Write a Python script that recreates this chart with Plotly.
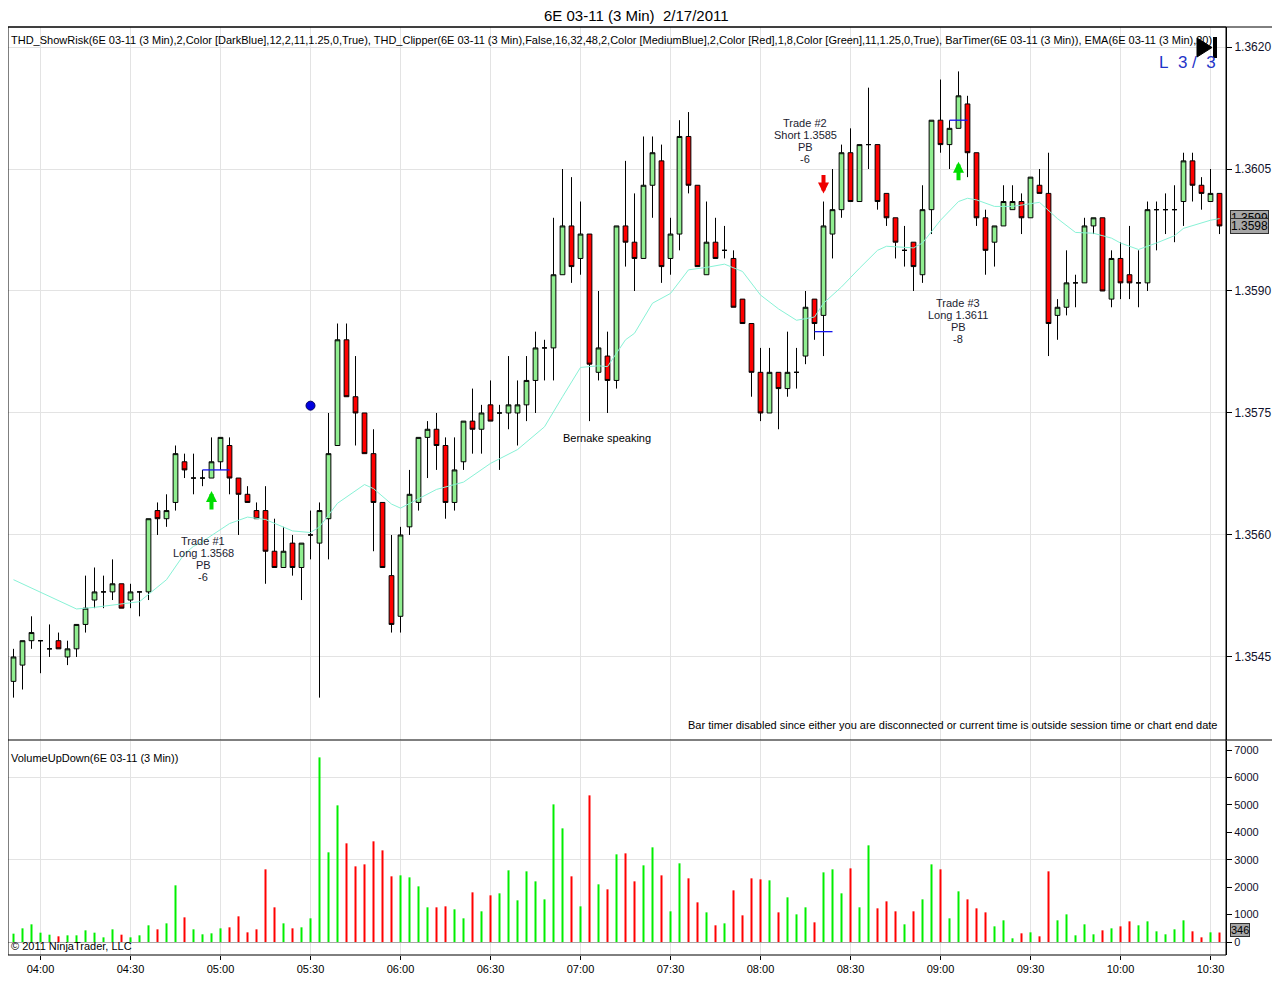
import pandas as pd
import plotly.graph_objects as go

# 3-minute bars of 6E 03-11, 17 Feb 2011 (prices in EUR/USD)
start_time = "2011-02-17 03:51"
opens = [1.3542, 1.3544, 1.3547, 1.3547, 1.3546, 1.3547, 1.3545, 1.3546, 1.3549, 1.3552,
         1.3553, 1.3553, 1.3554, 1.3552, 1.3553, 1.3553, 1.3563, 1.3562, 1.3564, 1.3569,
         1.3567, 1.3567, 1.3567, 1.3569, 1.3571, 1.3567, 1.3565, 1.3563, 1.3563, 1.3558,
         1.3556, 1.3559, 1.3556, 1.3560, 1.3559, 1.3562, 1.3571, 1.3584, 1.3577, 1.3575,
         1.3570, 1.3564, 1.3555, 1.3550, 1.3561, 1.3564, 1.3572, 1.3573, 1.3571, 1.3564,
         1.3569, 1.3574, 1.3573, 1.3576, 1.3575, 1.3575, 1.3575, 1.3576, 1.3579, 1.3583,
         1.3583, 1.3592, 1.3598, 1.3594, 1.3597, 1.3580, 1.3582, 1.3579, 1.3598, 1.3596,
         1.3594, 1.3603, 1.3606, 1.3594, 1.3597, 1.3609, 1.3603, 1.3592, 1.3596, 1.3595,
         1.3594, 1.3589, 1.3586, 1.3580, 1.3575, 1.3580, 1.3578, 1.3580, 1.3582, 1.3589,
         1.3587, 1.3597, 1.3600, 1.3607, 1.3601, 1.3608, 1.3608, 1.3602, 1.3599, 1.3595,
         1.3596, 1.3592, 1.3600, 1.3611, 1.3608, 1.3610, 1.3613, 1.3607, 1.3599, 1.3596,
         1.3598, 1.3600, 1.3601, 1.3599, 1.3603, 1.3602, 1.3587, 1.3588, 1.3591, 1.3591,
         1.3598, 1.3599, 1.3589, 1.3594, 1.3592, 1.3591, 1.3591, 1.3600, 1.3600, 1.3600,
         1.3601, 1.3606, 1.3603, 1.3601, 1.3602]
highs = [1.3546, 1.3547, 1.3550, 1.3547, 1.3549, 1.3548, 1.3547, 1.3549, 1.3555, 1.3556,
         1.3555, 1.3557, 1.3554, 1.3554, 1.3553, 1.3562, 1.3564, 1.3565, 1.3571, 1.3570,
         1.3570, 1.3568, 1.3572, 1.3572, 1.3572, 1.3567, 1.3566, 1.3564, 1.3566, 1.3562,
         1.3561, 1.3560, 1.3559, 1.3563, 1.3564, 1.3575, 1.3586, 1.3586, 1.3582, 1.3575,
         1.3573, 1.3564, 1.3560, 1.3561, 1.3568, 1.3572, 1.3574, 1.3575, 1.3572, 1.3572,
         1.3574, 1.3578, 1.3576, 1.3579, 1.3576, 1.3582, 1.3579, 1.3582, 1.3585, 1.3584,
         1.3599, 1.3605, 1.3604, 1.3601, 1.3597, 1.3590, 1.3585, 1.3598, 1.3606, 1.3602,
         1.3609, 1.3609, 1.3608, 1.3599, 1.3611, 1.3612, 1.3603, 1.3601, 1.3599, 1.3598,
         1.3595, 1.3589, 1.3586, 1.3583, 1.3583, 1.3580, 1.3585, 1.3583, 1.3590, 1.3589,
         1.3601, 1.3605, 1.3608, 1.3610, 1.3608, 1.3615, 1.3608, 1.3602, 1.3599, 1.3598,
         1.3596, 1.3603, 1.3611, 1.3616, 1.3611, 1.3617, 1.3614, 1.3607, 1.3600, 1.3598,
         1.3603, 1.3603, 1.3602, 1.3604, 1.3605, 1.3607, 1.3589, 1.3595, 1.3592, 1.3599,
         1.3599, 1.3599, 1.3595, 1.3596, 1.3598, 1.3595, 1.3601, 1.3601, 1.3602, 1.3603,
         1.3607, 1.3607, 1.3604, 1.3605, 1.3602]
lows = [1.3540, 1.3541, 1.3546, 1.3543, 1.3545, 1.3546, 1.3544, 1.3545, 1.3548, 1.3551,
        1.3551, 1.3552, 1.3551, 1.3551, 1.3550, 1.3552, 1.3560, 1.3561, 1.3563, 1.3567,
        1.3565, 1.3566, 1.3567, 1.3568, 1.3565, 1.3560, 1.3564, 1.3562, 1.3554, 1.3556,
        1.3556, 1.3555, 1.3552, 1.3557, 1.3540, 1.3557, 1.3571, 1.3577, 1.3571, 1.3570,
        1.3558, 1.3556, 1.3548, 1.3548, 1.3560, 1.3563, 1.3567, 1.3568, 1.3562, 1.3563,
        1.3568, 1.3570, 1.3570, 1.3574, 1.3568, 1.3573, 1.3571, 1.3574, 1.3575, 1.3579,
        1.3579, 1.3592, 1.3591, 1.3592, 1.3574, 1.3579, 1.3575, 1.3578, 1.3593, 1.3590,
        1.3594, 1.3599, 1.3591, 1.3592, 1.3595, 1.3602, 1.3593, 1.3592, 1.3594, 1.3594,
        1.3588, 1.3586, 1.3577, 1.3574, 1.3575, 1.3573, 1.3577, 1.3578, 1.3581, 1.3584,
        1.3582, 1.3594, 1.3599, 1.3601, 1.3601, 1.3605, 1.3600, 1.3598, 1.3594, 1.3593,
        1.3590, 1.3591, 1.3597, 1.3607, 1.3605, 1.3610, 1.3604, 1.3598, 1.3592, 1.3593,
        1.3598, 1.3600, 1.3597, 1.3599, 1.3602, 1.3582, 1.3584, 1.3587, 1.3588, 1.3591,
        1.3597, 1.3590, 1.3588, 1.3589, 1.3589, 1.3588, 1.3590, 1.3595, 1.3597, 1.3596,
        1.3598, 1.3601, 1.3600, 1.3601, 1.3597]
closes = [1.3545, 1.3547, 1.3548, 1.3547, 1.3546, 1.3546, 1.3546, 1.3549, 1.3551, 1.3553,
          1.3553, 1.3554, 1.3551, 1.3553, 1.3553, 1.3562, 1.3562, 1.3563, 1.3570, 1.3568,
          1.3567, 1.3567, 1.3569, 1.3572, 1.3567, 1.3565, 1.3564, 1.3562, 1.3558, 1.3556,
          1.3558, 1.3556, 1.3559, 1.3560, 1.3563, 1.3570, 1.3584, 1.3577, 1.3575, 1.3570,
          1.3564, 1.3556, 1.3549, 1.3560, 1.3565, 1.3572, 1.3573, 1.3571, 1.3564, 1.3568,
          1.3574, 1.3573, 1.3575, 1.3574, 1.3575, 1.3576, 1.3576, 1.3579, 1.3583, 1.3583,
          1.3592, 1.3598, 1.3593, 1.3597, 1.3581, 1.3583, 1.3579, 1.3598, 1.3596, 1.3594,
          1.3603, 1.3607, 1.3593, 1.3597, 1.3609, 1.3603, 1.3593, 1.3596, 1.3594, 1.3595,
          1.3588, 1.3586, 1.3580, 1.3575, 1.3580, 1.3578, 1.3580, 1.3580, 1.3588, 1.3586,
          1.3598, 1.3600, 1.3607, 1.3601, 1.3608, 1.3608, 1.3601, 1.3599, 1.3596, 1.3595,
          1.3593, 1.3600, 1.3611, 1.3608, 1.3610, 1.3614, 1.3607, 1.3599, 1.3595, 1.3598,
          1.3601, 1.3601, 1.3599, 1.3604, 1.3602, 1.3586, 1.3588, 1.3591, 1.3591, 1.3598,
          1.3599, 1.3590, 1.3594, 1.3591, 1.3591, 1.3591, 1.3600, 1.3600, 1.3600, 1.3600,
          1.3606, 1.3603, 1.3602, 1.3602, 1.3598]
volumes = [304, 498, 644, 340, 267, 207, 243, 243, 425, 340,
           170, 462, 267, 170, 243, 608, 462, 680, 2066, 899,
           462, 280, 316, 498, 535, 936, 352, 462, 2649, 1264,
           680, 498, 535, 863, 6731, 3269, 4982, 3597, 2758, 2831,
           3670, 3341, 2394, 2430, 2357, 2029, 1264, 1264, 1300, 1191,
           863, 1810, 1118, 1701, 1774, 2612, 1519, 2576, 2211, 1555,
           5018, 4143, 2394, 1300, 5346, 2102, 1920, 3196, 3232, 2211,
           2795, 3451, 2430, 1118, 2868, 2321, 1446, 1081, 608, 680,
           1883, 972, 2321, 2284, 2248, 1081, 1628, 1008, 1264, 717,
           2539, 2649, 1774, 2685, 1264, 3524, 1227, 1482, 1118, 644,
           1118, 1555, 2831, 2649, 863, 1847, 1555, 1227, 1081, 571,
           790, 134, 316, 352, 207, 2576, 790, 1008, 243, 644,
           280, 425, 498, 571, 753, 608, 753, 389, 280, 462,
           790, 389, 170, 352, 346]

# EMA(20): bar index -> value
ema_bar = [0, 3, 7, 9, 13, 14, 17, 19, 20, 21, 24, 26, 28, 31, 33, 34, 36, 39, 40, 42,
           43, 47, 50, 53, 56, 59, 61, 63, 65, 66, 68, 69, 71, 73, 75, 77, 79, 81, 83, 85,
           87, 89, 90, 92, 94, 96, 97, 100, 101, 102, 103, 105, 106, 107, 109, 111, 114, 116,
           118, 120, 122, 123, 125, 127, 129, 130, 133, 134]
ema_val = [1.35545, 1.35530, 1.35509, 1.35511, 1.35517, 1.35518, 1.35545, 1.35577, 1.35586, 1.35592,
           1.35614, 1.35622, 1.35619, 1.35605, 1.35603, 1.35610, 1.35639, 1.35662, 1.35657, 1.35638,
           1.35633, 1.35656, 1.35665, 1.35688, 1.35705, 1.35733, 1.35770, 1.35806, 1.35808, 1.35807,
           1.35840, 1.35848, 1.35885, 1.35897, 1.35926, 1.35929, 1.35933, 1.35924, 1.35895, 1.35878,
           1.35864, 1.35868, 1.35885, 1.35905, 1.35928, 1.35950, 1.35955, 1.35953, 1.35959, 1.35973,
           1.35987, 1.36010, 1.36014, 1.36012, 1.36004, 1.36004, 1.36009, 1.35989, 1.35972, 1.35971,
           1.35965, 1.35959, 1.35951, 1.35959, 1.35968, 1.35977, 1.35987, 1.35989]

# trades: signal bar, arrow tip price, entry line bars and price, label lines
trade_names = ["Trade #1", "Trade #2", "Trade #3"]
trade_side = ["Long", "Short", "Long"]
trade_entry = [1.3568, 1.3585, 1.3611]
trade_pb = [-6, -6, -8]
trade_signal_bar = [22, 90, 105]
trade_arrow_tip = [1.35654, 1.36020, 1.36059]
trade_line_from = [21, 89, 104]
trade_line_to = [24, 91, 106]
dot_bar, dot_price = 33, 1.35759
last_price_labels = [1.3599, 1.3598]
last_volume = 346

times = pd.date_range(start_time, periods=len(closes), freq="3min")
tstr = [t.strftime("%Y-%m-%d %H:%M") for t in times]

# page geometry (plotly page has an 8px body margin)
W, H = 1264, 983
OFF = 8
ML, MR, MT, MB = 0, 46, 19, 36
FONT = "Liberation Sans, Arial, sans-serif"


def px(x):
    return (x - OFF - ML) / (W - ML - MR)


def py(y):
    return (H - MB - (y - OFF)) / (H - MT - MB)


vol_colors = ["#ff0000" if c < o else "#00ee00" for o, c in zip(opens, closes)]

fig = go.Figure()

fig.add_trace(go.Scatter(
    x=[tstr[i] for i in ema_bar], y=ema_val, mode="lines",
    line=dict(color="#88f2d6", width=1), hoverinfo="skip", yaxis="y"))

fig.add_trace(go.Candlestick(
    x=tstr, open=opens, high=highs, low=lows, close=closes,
    increasing=dict(fillcolor="#90ee90", line=dict(color="black", width=1)),
    decreasing=dict(fillcolor="#ff0000", line=dict(color="black", width=1)),
    whiskerwidth=0, hoverinfo="skip", yaxis="y"))

for i in range(len(trade_names)):
    fig.add_trace(go.Scatter(
        x=[tstr[trade_line_from[i]], tstr[trade_line_to[i]]],
        y=[trade_entry[i], trade_entry[i]], mode="lines",
        line=dict(color="#1515ee", width=1.3), hoverinfo="skip", yaxis="y"))

fig.add_trace(go.Scatter(
    x=[tstr[dot_bar]], y=[dot_price], mode="markers",
    marker=dict(color="#0000e0", size=9, line=dict(color="#000060", width=1)),
    hoverinfo="skip", yaxis="y"))

fig.add_trace(go.Bar(
    x=tstr, y=volumes, marker=dict(color=vol_colors, line=dict(width=0)),
    width=40000, hoverinfo="skip", yaxis="y2"))

p_top = py(27)
p_bot = py(740)
v_top = py(741)

fig.update_layout(
    width=W, height=H,
    margin=dict(l=ML, r=MR, t=MT, b=MB),
    paper_bgcolor="white", plot_bgcolor="white",
    showlegend=False, boxgap=0.25,
    font=dict(family=FONT, size=11, color="black"),
    xaxis=dict(
        type="date", anchor="y2", domain=[0, 1],
        range=["2011-02-17 03:49:10", "2011-02-17 10:35:10"],
        tick0="2011-02-17 04:00", dtick=30 * 60 * 1000, tickformat="%H:%M",
        ticks="outside", ticklen=4, tickcolor="black",
        showgrid=True, gridcolor="#e3e3e3", gridwidth=1,
        showline=False, zeroline=False,
        rangeslider=dict(visible=False),
        tickfont=dict(size=11, color="black"),
    ),
    yaxis=dict(
        domain=[p_bot, p_top], side="right", anchor="x",
        range=[1.353479, 1.362246],
        tick0=1.3545, dtick=0.0015, tickformat=".4f",
        ticks="outside", ticklen=5, tickcolor="black",
        showgrid=True, gridcolor="#e3e3e3", zeroline=False,
        showline=True, linecolor="black",
        tickfont=dict(size=12, color="#10102a"),
    ),
    yaxis2=dict(
        domain=[0, v_top], side="right", anchor="x",
        range=[-474, 7328],
        tickvals=[0, 1000, 2000, 3000, 4000, 5000, 6000, 7000],
        ticks="outside", ticklen=5, tickcolor="black",
        showgrid=False, zeroline=True, zerolinecolor="#a8a8a8", zerolinewidth=1,
        showline=True, linecolor="black",
        tickfont=dict(size=11, color="#10102a"),
    ),
    yaxis3=dict(
        overlaying="y2", anchor="x", side="right",
        range=[-474, 7328], tickvals=[3000, 6000],
        showticklabels=False, ticks="", showgrid=True, gridcolor="#e3e3e3",
        zeroline=False, showline=False,
    ),
)

# invisible trace so yaxis3 draws its gridlines
fig.add_trace(go.Scatter(x=[tstr[0]], y=[0], yaxis="y3", mode="markers",
                         marker=dict(opacity=0), hoverinfo="skip"))

right_edge = px(OFF + W)
shapes = [
    dict(type="rect", xref="paper", yref="paper", x0=0, x1=1, y0=0, y1=1,
         line=dict(color="black", width=1)),
    dict(type="line", xref="paper", yref="paper", x0=0, x1=right_edge, y0=p_top, y1=p_top,
         line=dict(color="black", width=1)),
    dict(type="line", xref="paper", yref="paper", x0=0, x1=right_edge, y0=p_bot, y1=p_bot,
         line=dict(color="black", width=1)),
    dict(type="path", xref="paper", yref="paper",
         path=f"M {px(1197)},{py(38)} L {px(1197)},{py(57)} L {px(1212)},{py(47.5)} Z",
         fillcolor="black", line=dict(color="black", width=1)),
    dict(type="line", xref="paper", yref="paper", x0=px(1215), x1=px(1215),
         y0=py(37), y1=py(58), line=dict(color="black", width=4)),
]
fig.update_layout(shapes=shapes)

ann = []


def text(x, y, s, size=11, color="black", xanchor="center", yanchor="middle"):
    ann.append(dict(xref="paper", yref="paper", x=px(x), y=py(y), text=s,
                    showarrow=False, xanchor=xanchor, yanchor=yanchor,
                    font=dict(family=FONT, size=size, color=color)))


text(636, 16, "6E 03-11 (3 Min)  2/17/2011", size=15)
text(9, 40, "THD_ShowRisk(6E 03-11 (3 Min),2,Color [DarkBlue],12,2,11,1.25,0,True), "
     "THD_Clipper(6E 03-11 (3 Min),False,16,32,48,2,Color [MediumBlue],2,Color [Red],"
     "1,8,Color [Green],11,1.25,0,True), BarTimer(6E 03-11 (3 Min)), EMA(6E 03-11 (3 Min),20)",
     size=11, xanchor="left")
text(1218, 62, "L&nbsp; 3 /&nbsp; 3", size=17, color="#1f34c8", xanchor="right")
text(1220, 725, "Bar timer disabled since either you are disconnected or current time is "
     "outside session time or chart end date", size=11, xanchor="right")
text(9, 758, "VolumeUpDown(6E 03-11 (3 Min))", size=11, xanchor="left")
text(9, 946, "© 2011 NinjaTrader, LLC", size=11, xanchor="left")
text(607, 438, "Bernake speaking", size=11)

label_pos = [(203, 541), (805, 123), (958, 303)]
for i, (lx, ly) in enumerate(label_pos):
    lines = [trade_names[i], f"{trade_side[i]} {trade_entry[i]:.4f}", "PB", str(trade_pb[i])]
    for j, s in enumerate(lines):
        text(lx, ly + 12 * j, s, size=11, color="#1c1c30")

# signal arrows
for i in range(len(trade_names)):
    up = trade_side[i] == "Long"
    ann.append(dict(
        x=tstr[trade_signal_bar[i]], y=trade_arrow_tip[i], xref="x", yref="y",
        ax=0, ay=20 if up else -20, showarrow=True, text="",
        arrowhead=2, arrowsize=0.55, arrowwidth=4,
        arrowcolor="#00dd00" if up else "#ee0000"))

# last value markers on the right axis
for v in last_price_labels:
    ann.append(dict(xref="paper", yref="y", x=px(1230), y=v, text=f"{v:.4f}",
                    showarrow=False, xanchor="left", yanchor="middle",
                    bgcolor="#a6a6a6", bordercolor="#303030", borderwidth=1, borderpad=0,
                    font=dict(family=FONT, size=12, color="black")))
ann.append(dict(xref="paper", yref="paper", x=px(1230), y=py(937), text=str(last_volume),
                showarrow=False, xanchor="left", yanchor="bottom",
                bgcolor="#a6a6a6", bordercolor="#303030", borderwidth=1, borderpad=0,
                font=dict(family=FONT, size=11, color="black")))

fig.update_layout(annotations=ann)

fig.write_html("out.html")
